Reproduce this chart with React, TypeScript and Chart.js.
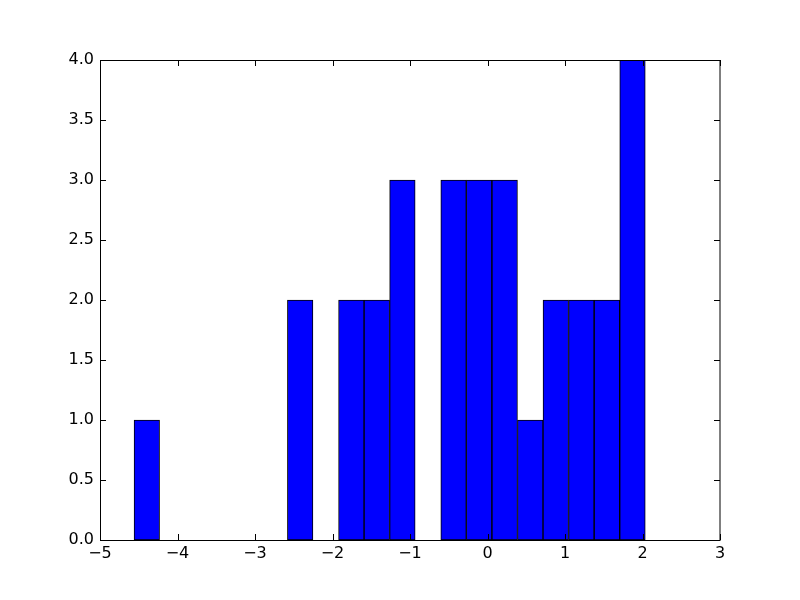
import React, { useEffect, useRef } from "react";
import { Chart, registerables } from "chart.js";

Chart.register(...registerables);

// Histogram bin centers (20 bins, width ≈ 0.33) and counts
const binCenters = [
  -4.396, -4.066, -3.736, -3.407, -3.077, -2.747, -2.417, -2.087, -1.757, -1.428,
  -1.098, -0.768, -0.438, -0.108, 0.222, 0.552, 0.881, 1.211, 1.541, 1.871,
];
const counts = [1, 0, 0, 0, 0, 0, 2, 0, 2, 2, 3, 0, 3, 3, 3, 1, 2, 2, 2, 4];

const xMin = -5;
const xMax = 3;
const xStep = 1;
const yMin = 0;
const yMax = 4;
const yStep = 0.5;

const FONT = "'DejaVu Sans', sans-serif";

const framePlugin = {
  id: "mplFrame",
  afterDraw(chart: any) {
    const { ctx, chartArea } = chart;
    const { left, right, top, bottom } = chartArea;
    const xs = chart.scales.x;
    const ys = chart.scales.y;
    const tl = 6;
    ctx.save();
    ctx.strokeStyle = "#000";
    ctx.lineWidth = 1;
    ctx.beginPath();
    for (const t of xs.ticks) {
      const px = Math.round(xs.getPixelForValue(t.value)) + 0.5;
      ctx.moveTo(px, bottom);
      ctx.lineTo(px, bottom - tl);
      ctx.moveTo(px, top);
      ctx.lineTo(px, top + tl);
    }
    for (const t of ys.ticks) {
      const py = Math.round(ys.getPixelForValue(t.value)) + 0.5;
      ctx.moveTo(left, py);
      ctx.lineTo(left + tl, py);
      ctx.moveTo(right, py);
      ctx.lineTo(right - tl, py);
    }
    ctx.stroke();
    ctx.strokeRect(left + 0.5, top + 0.5, right - left - 1 + 0.5, bottom - top);
    ctx.restore();
  },
};

export default function App() {
  const ref = useRef<HTMLCanvasElement | null>(null);
  useEffect(() => {
    if (!ref.current) return;
    const chart = new Chart(ref.current, {
      type: "bar",
      data: {
        datasets: [
          {
            data: binCenters.map((x, i) => ({ x, y: counts[i] })),
            backgroundColor: "#0000ff",
            borderColor: "#000000",
            borderWidth: 1,
            borderSkipped: false,
            barPercentage: 1,
            categoryPercentage: 1,
          },
        ],
      },
      options: {
        animation: false,
        responsive: false,
        events: [],
        layout: { padding: { left: 0, top: 60, right: 80, bottom: 0 } },
        plugins: { legend: { display: false }, tooltip: { enabled: false } },
        scales: {
          x: {
            type: "linear",
            min: xMin,
            max: xMax,
            offset: false,
            grid: { display: false, offset: false, drawTicks: false },
            border: { display: false },
            ticks: {
              stepSize: xStep,
              padding: 4,
              color: "#000",
              font: { family: FONT, size: 16 },
              maxRotation: 0,
              callback: (v: any) => (v < 0 ? "\u2212" + Math.abs(v) : String(v)),
            },
            afterFit: (s: any) => {
              s.height = 60;
            },
          },
          y: {
            min: yMin,
            max: yMax,
            grid: { display: false, drawTicks: false },
            border: { display: false },
            ticks: {
              stepSize: yStep,
              padding: 6,
              color: "#000",
              font: { family: FONT, size: 16 },
              callback: (v: any) => Number(v).toFixed(1),
            },
            afterFit: (s: any) => {
              s.width = 100;
            },
          },
        },
      },
      plugins: [framePlugin],
    });
    return () => chart.destroy();
  }, []);
  return (
    <div style={{ position: "fixed", left: 0, top: 0, width: 800, height: 600, background: "#fff" }}>
      <canvas ref={ref} width={800} height={600} />
    </div>
  );
}
